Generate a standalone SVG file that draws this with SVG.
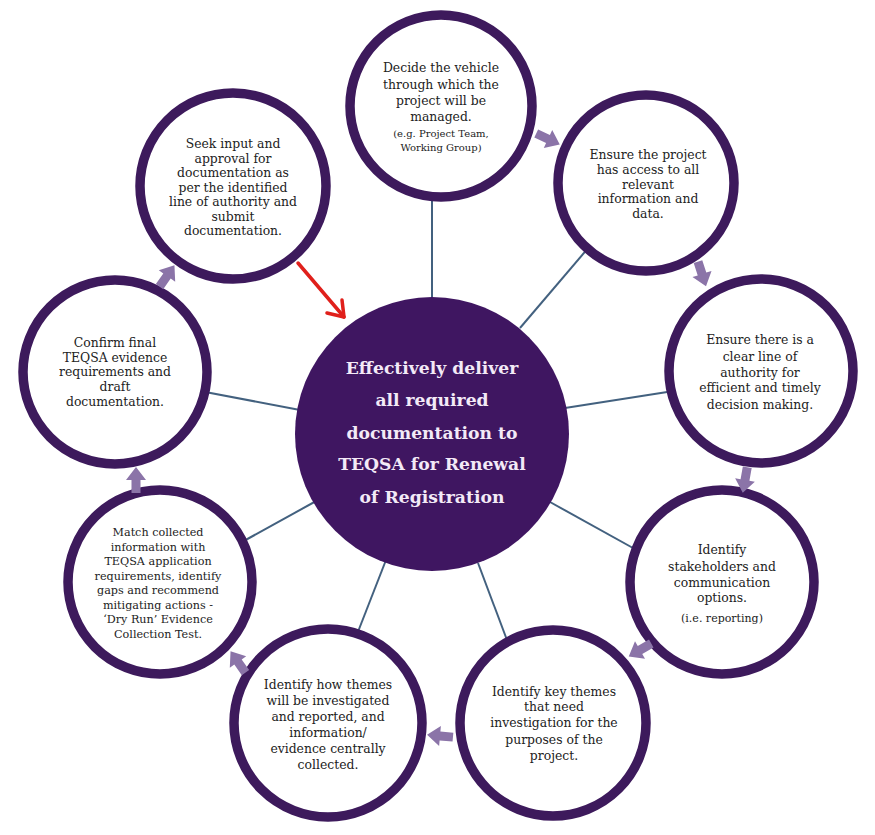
<svg xmlns="http://www.w3.org/2000/svg" width="875" height="835" viewBox="0 0 875 835">
<defs>
<style>
.ring{fill:#ffffff;stroke:#3d1a5c;stroke-width:9.5}
.spoke{stroke:#43617f;stroke-width:2;fill:none}
.t{font-family:"DejaVu Serif","Liberation Serif",serif;font-size:12.4px;fill:#222222;text-anchor:middle}
.s{font-size:10px}
.c{font-family:"DejaVu Serif","Liberation Serif",serif;font-size:17.2px;font-weight:bold;fill:#f3eaf7;text-anchor:middle}
.arr{fill:#8b74a8}
</style>
<path id="ah" d="M-13,-4.5 L0,-4.5 L0,-10 L13,0 L0,10 L0,4.5 L-13,4.5 Z"/>
</defs>
<rect width="875" height="835" fill="#ffffff"/>
<g id="connectors">
<line class="spoke" x1="432" y1="300" x2="432" y2="190"/>
<line class="spoke" x1="520" y1="328" x2="595" y2="240"/>
<line class="spoke" x1="565" y1="408" x2="680" y2="390"/>
<line class="spoke" x1="550" y1="502" x2="642" y2="553"/>
<line class="spoke" x1="478" y1="563" x2="510" y2="648"/>
<line class="spoke" x1="386" y1="560" x2="354" y2="642"/>
<line class="spoke" x1="318" y1="500" x2="242" y2="542"/>
<line class="spoke" x1="300" y1="410" x2="200" y2="391"/>
</g>
<g id="center">
<circle cx="432" cy="434" r="137" fill="#3f1661"/>
<text class="c"><tspan x="432" y="374">Effectively deliver</tspan><tspan x="432" y="406">all required</tspan><tspan x="432" y="439">documentation to</tspan><tspan x="432" y="470">TEQSA for Renewal</tspan><tspan x="432" y="503">of Registration</tspan></text>
</g>
<g id="n1">
<circle class="ring" cx="441" cy="106" r="91"/>
<text class="t"><tspan x="441" y="72">Decide the vehicle</tspan><tspan x="441" y="89">through which the</tspan><tspan x="441" y="105">project will be</tspan><tspan x="441" y="121">managed.</tspan><tspan class="s" x="441" y="137">(e.g. Project Team,</tspan><tspan class="s" x="441" y="151">Working Group)</tspan></text>
</g>
<g id="n2">
<circle class="ring" cx="646" cy="183" r="88"/>
<text class="t"><tspan x="648" y="159">Ensure the project</tspan><tspan x="648" y="174">has access to all</tspan><tspan x="648" y="189">relevant</tspan><tspan x="648" y="203">information and</tspan><tspan x="648" y="218">data.</tspan></text>
</g>
<g id="n3">
<circle class="ring" cx="761" cy="371" r="92"/>
<text class="t"><tspan x="760" y="344">Ensure there is a</tspan><tspan x="760" y="361">clear line of</tspan><tspan x="760" y="377">authority for</tspan><tspan x="760" y="392">efficient and timely</tspan><tspan x="760" y="409">decision making.</tspan></text>
</g>
<g id="n4">
<circle class="ring" cx="722" cy="582" r="92"/>
<text class="t"><tspan x="722" y="554">Identify</tspan><tspan x="722" y="571">stakeholders and</tspan><tspan x="722" y="587">communication</tspan><tspan x="722" y="602">options.</tspan><tspan style="font-size:11px" x="722" y="622">(i.e. reporting)</tspan></text>
</g>
<g id="n5">
<circle class="ring" cx="553" cy="723" r="93"/>
<text class="t"><tspan x="554" y="696">Identify key themes</tspan><tspan x="554" y="711">that need</tspan><tspan x="554" y="727">investigation for the</tspan><tspan x="554" y="744">purposes of the</tspan><tspan x="554" y="760">project.</tspan></text>
</g>
<g id="n6">
<circle class="ring" cx="328" cy="723" r="94"/>
<text class="t"><tspan x="328" y="689">Identify how themes</tspan><tspan x="328" y="705">will be investigated</tspan><tspan x="328" y="721">and reported, and</tspan><tspan x="328" y="737">information/</tspan><tspan x="328" y="753">evidence centrally</tspan><tspan x="328" y="769">collected.</tspan></text>
</g>
<g id="n7">
<circle class="ring" cx="160" cy="582" r="92"/>
<text class="t" style="font-size:11.2px"><tspan x="158" y="536">Match collected</tspan><tspan x="158" y="550.5">information with</tspan><tspan x="158" y="565">TEQSA application</tspan><tspan x="158" y="579.5">requirements, identify</tspan><tspan x="158" y="594">gaps and recommend</tspan><tspan x="158" y="608.5">mitigating actions -</tspan><tspan x="158" y="623">‘Dry Run’ Evidence</tspan><tspan x="158" y="637.5">Collection Test.</tspan></text>
</g>
<g id="n8">
<circle class="ring" cx="115" cy="372" r="92"/>
<text class="t"><tspan x="115" y="347">Confirm final</tspan><tspan x="115" y="362">TEQSA evidence</tspan><tspan x="115" y="376">requirements and</tspan><tspan x="115" y="391">draft</tspan><tspan x="115" y="406">documentation.</tspan></text>
</g>
<g id="n9">
<circle class="ring" cx="233" cy="186" r="93"/>
<text class="t"><tspan x="233" y="148">Seek input and</tspan><tspan x="233" y="162.5">approval for</tspan><tspan x="233" y="177">documentation as</tspan><tspan x="233" y="191.5">per the identified</tspan><tspan x="233" y="206">line of authority and</tspan><tspan x="233" y="220.5">submit</tspan><tspan x="233" y="235">documentation.</tspan></text>
</g>
<g id="arrows">
<use href="#ah" class="arr" transform="translate(548,139) rotate(25)"/>
<use href="#ah" class="arr" transform="translate(702,274) rotate(72)"/>
<use href="#ah" class="arr" transform="translate(745,480) rotate(100)"/>
<use href="#ah" class="arr" transform="translate(640,650) rotate(150)"/>
<use href="#ah" class="arr" transform="translate(440,736) rotate(185)"/>
<use href="#ah" class="arr" transform="translate(238,662) rotate(-125)"/>
<use href="#ah" class="arr" transform="translate(136,480) rotate(-90)"/>
<use href="#ah" class="arr" transform="translate(167,276) rotate(-55)"/>
<g id="red-arrow" stroke="#e0201b" stroke-width="3.5" fill="none" stroke-linecap="round" stroke-linejoin="round">
<line x1="298" y1="263" x2="344" y2="317"/>
<polyline points="327,313 344,317 342,300"/>
</g>
</g>
</svg>
